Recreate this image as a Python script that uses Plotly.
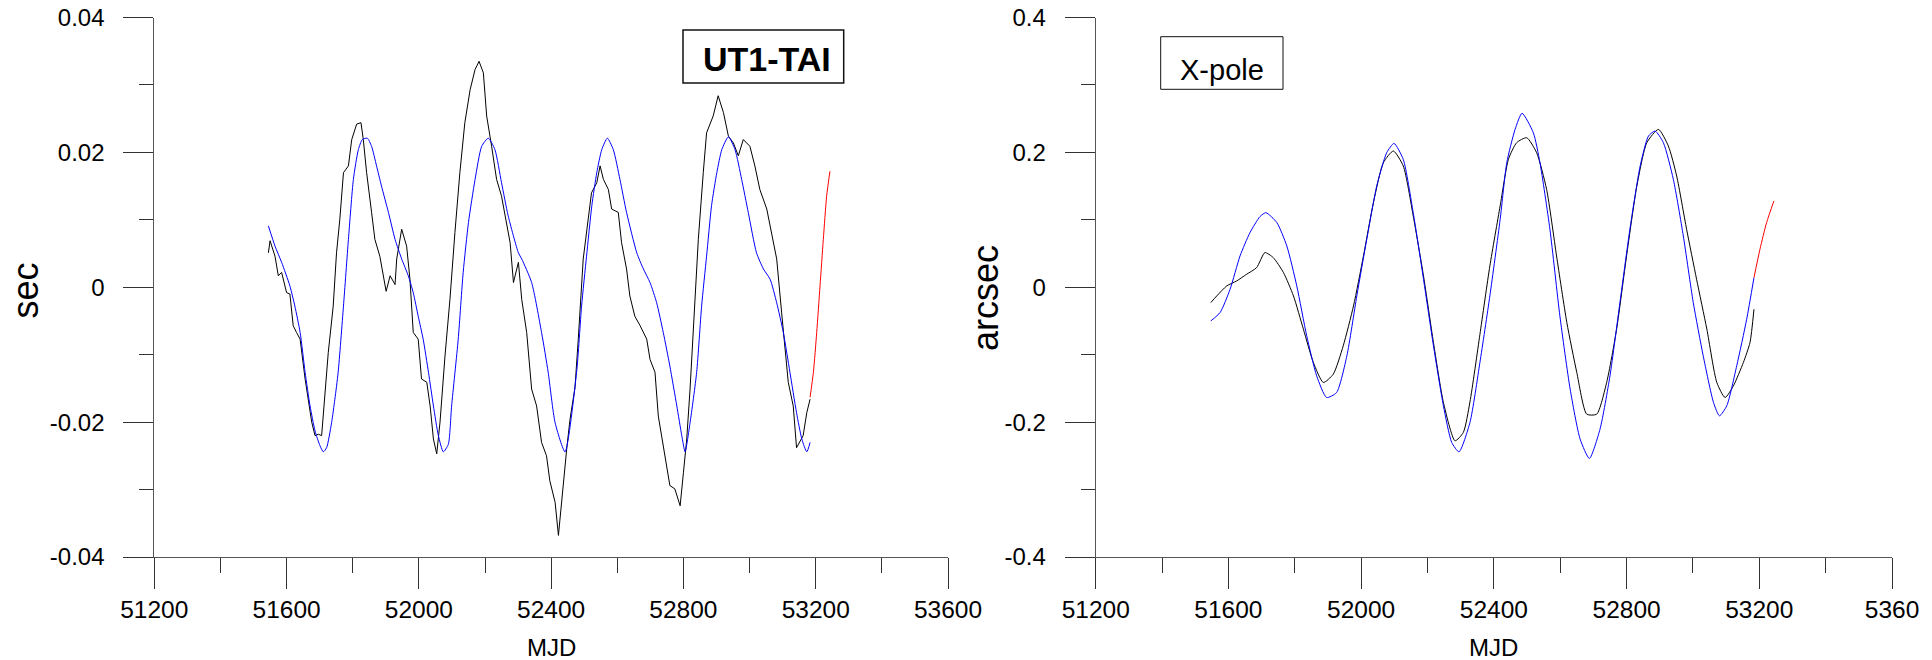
import plotly.graph_objects as go

# ---------------- data ----------------
# UT1-TAI panel (seconds)
ut_obs_mjd = [51545, 51550, 51565, 51575, 51585, 51600, 51610, 51620, 51630, 51641, 51656, 51666, 51676, 51686,
              51696, 51706, 51716, 51726, 51741, 51751, 51761, 51772, 51787, 51797, 51812, 51825, 51832, 51842,
              51857, 51867, 51882, 51893, 51901, 51913, 51928, 51933, 51948, 51963, 51973, 51983, 51998, 52008,
              52024, 52034, 52044, 52054, 52064, 52079, 52094, 52109, 52124, 52139, 52155, 52170, 52182, 52195,
              52205, 52220, 52235, 52250, 52260, 52276, 52286, 52301, 52311, 52326, 52341, 52356, 52371, 52386,
              52396, 52412, 52422, 52437, 52447, 52457, 52472, 52482, 52497, 52512, 52522, 52538, 52548, 52558,
              52573, 52583, 52603, 52613, 52628, 52638, 52653, 52669, 52689, 52699, 52714, 52724, 52744, 52759,
              52774, 52790, 52800, 52810, 52820, 52835, 52845, 52860, 52870, 52890, 52905, 52921, 52936, 52951,
              52966, 52981, 53001, 53016, 53031, 53052, 53067, 53082, 53097, 53107, 53117, 53132, 53142, 53162,
              53173, 53183]
ut_obs = [0.0051, 0.0069, 0.0046, 0.0017, 0.0022, -0.0008, -0.0010, -0.0057, -0.0067, -0.0077, -0.0136, -0.0166,
          -0.0200, -0.0220, -0.0218, -0.0220, -0.0156, -0.0097, -0.0028, 0.0051, 0.0101, 0.0170, 0.0180, 0.0219,
          0.0242, 0.0244, 0.0219, 0.0170, 0.0111, 0.0071, 0.0046, 0.0017, -0.0006, 0.0017, 0.0004, 0.0042,
          0.0086, 0.0061, 0.0012, -0.0067, -0.0077, -0.0136, -0.0141, -0.0176, -0.0225, -0.0247, -0.0200,
          -0.0102, -0.0018, 0.0081, 0.0170, 0.0244, 0.0293, 0.0323, 0.0335, 0.0318, 0.0254, 0.0209, 0.0160,
          0.0135, 0.0106, 0.0066, 0.0007, 0.0037, -0.0018, -0.0067, -0.0151, -0.0176, -0.0230, -0.0250,
          -0.0287, -0.0319, -0.0368, -0.0289, -0.0240, -0.0196, -0.0149, -0.0077, 0.0042, 0.0101, 0.0140,
          0.0155, 0.0180, 0.0160, 0.0145, 0.0116, 0.0111, 0.0066, 0.0027, -0.0013, -0.0043, -0.0057, -0.0077,
          -0.0107, -0.0126, -0.0191, -0.0250, -0.0294, -0.0299, -0.0324, -0.0275, -0.0225, -0.0151, -0.0028,
          0.0071, 0.0170, 0.0229, 0.0254, 0.0284, 0.0259, 0.0224, 0.0214, 0.0195, 0.0219, 0.0209, 0.0180,
          0.0145, 0.0116, 0.0081, 0.0042, -0.0038, -0.0092, -0.0141, -0.0176, -0.0238, -0.0220, -0.0186,
          -0.0166]

ut_model_mjd = [51545, 51565, 51585, 51610, 51625, 51641, 51656, 51671, 51686, 51701, 51711, 51721, 51736, 51746,
                51756, 51772, 51787, 51802, 51817, 51829, 51844, 51857, 51872, 51887, 51908, 51928, 51948, 51968,
                51983, 51998, 52013, 52029, 52044, 52059, 52074, 52089, 52099, 52119, 52134, 52150, 52170, 52190,
                52210, 52230, 52250, 52270, 52301, 52311, 52341, 52371, 52391, 52412, 52442, 52477, 52492, 52507,
                52523, 52538, 52553, 52570, 52588, 52608, 52628, 52659, 52679, 52699, 52719, 52739, 52759, 52780,
                52795, 52805, 52820, 52840, 52855, 52870, 52885, 52901, 52916, 52936, 52956, 52976, 52996, 53021,
                53042, 53062, 53082, 53102, 53122, 53142, 53158, 53173, 53183]
ut_model = [0.0091, 0.0061, 0.0037, 0.0002, -0.0028, -0.0067, -0.0126, -0.0176, -0.0213, -0.0235, -0.0244,
            -0.0238, -0.0201, -0.0166, -0.0126, -0.0028, 0.0071, 0.0160, 0.0204, 0.0219, 0.0221, 0.0209, 0.0180,
            0.0150, 0.0111, 0.0071, 0.0042, 0.0017, -0.0008, -0.0043, -0.0077, -0.0126, -0.0176, -0.0220,
            -0.0244, -0.0233, -0.0176, -0.0077, 0.0022, 0.0096, 0.0160, 0.0209, 0.0221, 0.0204, 0.0155, 0.0106,
            0.0051, 0.0042, 0.0007, -0.0067, -0.0126, -0.0201, -0.0244, -0.0126, -0.0028, 0.0046, 0.0121,
            0.0170, 0.0204, 0.0221, 0.0204, 0.0160, 0.0111, 0.0051, 0.0027, 0.0007, -0.0023, -0.0067, -0.0117,
            -0.0176, -0.0220, -0.0244, -0.0201, -0.0126, -0.0028, 0.0046, 0.0121, 0.0170, 0.0204, 0.0223,
            0.0204, 0.0160, 0.0111, 0.0051, 0.0027, 0.0012, -0.0023, -0.0067, -0.0126, -0.0186, -0.0225,
            -0.0244, -0.0230]

ut_pred_mjd = [53183, 53193, 53203, 53213, 53223, 53233, 53243]
ut_pred = [-0.0163, -0.0126, -0.0067, 0.0002, 0.0071, 0.0135, 0.0172]

# X-pole panel (arcsec)
xp_obs_mjd = [51547, 51565, 51595, 51625, 51655, 51685, 51710, 51735, 51766, 51796, 51826, 51856, 51886, 51916,
              51946, 51977, 52007, 52037, 52067, 52097, 52127, 52157, 52188, 52218, 52248, 52283, 52308, 52328,
              52358, 52388, 52419, 52444, 52469, 52499, 52529, 52559, 52589, 52620, 52650, 52680, 52710, 52740,
              52770, 52800, 52831, 52861, 52896, 52926, 52951, 52981, 53011, 53042, 53072, 53097, 53122, 53152,
              53172, 53184]
xp_obs = [-0.0227, -0.0128, 0.0020, 0.0094, 0.0193, 0.0291, 0.0514, 0.0440, 0.0217, -0.0128, -0.0622, -0.1116,
          -0.1412, -0.1289, -0.0869, -0.0277, 0.0464, 0.1254, 0.1847, 0.2020, 0.1798, 0.1057, 0.0168, -0.0820,
          -0.1709, -0.2277, -0.2153, -0.1700, -0.0700, 0.0317, 0.1206, 0.1898, 0.2145, 0.2217, 0.1995, 0.1452,
          0.0464, -0.0524, -0.1264, -0.1882, -0.1882, -0.1412, -0.0622, 0.0464, 0.1501, 0.2143, 0.2341,
          0.2094, 0.1650, 0.0859, 0.0119, -0.0622, -0.1412, -0.1635, -0.1462, -0.1116, -0.0820, -0.0326]

xp_model_mjd = [51547, 51575, 51605, 51635, 51665, 51695, 51713, 51746, 51776, 51806, 51836, 51866, 51896, 51926,
                51957, 51987, 52017, 52047, 52077, 52099, 52127, 52157, 52188, 52218, 52248, 52273, 52295, 52328,
                52358, 52388, 52419, 52439, 52464, 52485, 52519, 52539, 52569, 52599, 52630, 52660, 52688, 52720,
                52750, 52780, 52810, 52841, 52866, 52886, 52911, 52941, 52971, 53001, 53031, 53062, 53080, 53102,
                53132, 53162, 53184]
xp_model = [-0.0499, -0.0375, -0.0030, 0.0464, 0.0810, 0.1047, 0.1106, 0.0958, 0.0612, 0.0020, -0.0721, -0.1314,
            -0.1635, -0.1561, -0.1017, -0.0128, 0.0711, 0.1501, 0.1995, 0.2133, 0.1896, 0.1106, 0.0119, -0.0869,
            -0.1758, -0.2301, -0.2440, -0.2005, -0.1116, -0.0128, 0.1005, 0.1847, 0.2341, 0.2580, 0.2291,
            0.1847, 0.0859, -0.0425, -0.1511, -0.2252, -0.2538, -0.2104, -0.1314, -0.0227, 0.0859, 0.1798,
            0.2242, 0.2316, 0.2143, 0.1600, 0.0761, -0.0227, -0.1017, -0.1709, -0.1906, -0.1758, -0.1165,
            -0.0474, 0.0143]

xp_pred_mjd = [53184, 53202, 53222, 53244]
xp_pred = [0.0143, 0.0563, 0.0958, 0.1279]

# tick values / labels
x_major = [51200, 51600, 52000, 52400, 52800, 53200, 53600]
x_minor = [51400, 51800, 52200, 52600, 53000, 53400]
x_labels_left = ["51200", "51600", "52000", "52400", "52800", "53200", "53600"]
x_labels_right = ["51200", "51600", "52000", "52400", "52800", "53200", "5360"]
y1_major = [-0.04, -0.02, 0, 0.02, 0.04]
y1_minor = [-0.03, -0.01, 0.01, 0.03]
y1_labels = ["-0.04", "-0.02", "0", "0.02", "0.04"]
y2_major = [-0.4, -0.2, 0, 0.2, 0.4]
y2_minor = [-0.3, -0.1, 0.1, 0.3]
y2_labels = ["-0.4", "-0.2", "0", "0.2", "0.4"]

# ---------------- figure ----------------
W, H = 1932, 660
FONT = "Liberation Sans, Arial, sans-serif"
SMOOTH = dict(shape="spline", smoothing=0.6)

fig = go.Figure()
fig.add_trace(go.Scatter(x=ut_obs_mjd, y=ut_obs, mode="lines", line=dict(color="#000000", width=1),
                         xaxis="x", yaxis="y", hoverinfo="skip"))
fig.add_trace(go.Scatter(x=ut_model_mjd, y=ut_model, mode="lines", line=dict(color="#0000ff", width=1, **SMOOTH),
                         xaxis="x", yaxis="y", hoverinfo="skip"))
fig.add_trace(go.Scatter(x=ut_pred_mjd, y=ut_pred, mode="lines", line=dict(color="#ff0000", width=1, **SMOOTH),
                         xaxis="x", yaxis="y", hoverinfo="skip"))
fig.add_trace(go.Scatter(x=xp_obs_mjd, y=xp_obs, mode="lines", line=dict(color="#000000", width=1, **SMOOTH),
                         xaxis="x2", yaxis="y2", hoverinfo="skip"))
fig.add_trace(go.Scatter(x=xp_model_mjd, y=xp_model, mode="lines", line=dict(color="#0000ff", width=1, **SMOOTH),
                         xaxis="x2", yaxis="y2", hoverinfo="skip"))
fig.add_trace(go.Scatter(x=xp_pred_mjd, y=xp_pred, mode="lines", line=dict(color="#ff0000", width=1, **SMOOTH),
                         xaxis="x2", yaxis="y2", hoverinfo="skip"))


def xaxis(domain, anchor, labels):
    return dict(domain=domain, anchor=anchor, range=[51200, 53600], tickmode="array", automargin=False,
                tickvals=x_major, ticktext=labels, ticks="outside", ticklen=31, tickwidth=1,
                tickcolor="#333333", showline=True, linecolor="#555555", linewidth=1,
                showgrid=False, zeroline=False,
                minor=dict(tickvals=x_minor, ticks="outside", ticklen=15, tickwidth=1,
                           tickcolor="#333333", showgrid=False),
                tickfont=dict(family=FONT, size=24.5, color="#000000"))


def yaxis(domain, anchor, rng, major, minor, labels):
    return dict(domain=domain, anchor=anchor, range=rng, tickmode="array", automargin=False,
                tickvals=major, ticktext=labels, ticks="outside", ticklen=30, tickwidth=1,
                tickcolor="#333333", showline=True, linecolor="#555555", linewidth=1,
                showgrid=False, zeroline=False,
                minor=dict(tickvals=minor, ticks="outside", ticklen=14, tickwidth=1,
                           tickcolor="#333333", showgrid=False),
                tickfont=dict(family=FONT, size=24, color="#000000"), ticklabelstandoff=14)


ydom = [1 - 557 / H, 1 - 17.5 / H]
fig.update_layout(
    width=W, height=H, margin=dict(l=0, r=0, t=0, b=0, autoexpand=False),
    paper_bgcolor="white", plot_bgcolor="white", showlegend=False,
    font=dict(family=FONT, color="#000000"),
    xaxis=xaxis([154.3 / W, 948 / W], "y", x_labels_left),
    yaxis=yaxis(ydom, "x", [-0.04, 0.04], y1_major, y1_minor, y1_labels),
    xaxis2=xaxis([1095.7 / W, 1892 / W], "y2", x_labels_right),
    yaxis2=yaxis(ydom, "x2", [-0.4, 0.4], y2_major, y2_minor, y2_labels),
)

# axis titles
fig.add_annotation(text="sec", x=24.5 / W, y=1 - 291 / H, xref="paper", yref="paper", textangle=-90,
                   showarrow=False, xanchor="center", yanchor="middle", font=dict(family=FONT, size=36))
fig.add_annotation(text="arcsec", x=985.5 / W, y=1 - 297.5 / H, xref="paper", yref="paper", textangle=-90,
                   showarrow=False, xanchor="center", yanchor="middle", font=dict(family=FONT, size=36))
fig.add_annotation(text="MJD", x=(154.3 + 948) / 2 / W, y=1 - 647 / H, xref="paper", yref="paper",
                   showarrow=False, xanchor="center", yanchor="middle", font=dict(family=FONT, size=24))
fig.add_annotation(text="MJD", x=(1095.7 + 1892) / 2 / W, y=1 - 647 / H, xref="paper", yref="paper",
                   showarrow=False, xanchor="center", yanchor="middle", font=dict(family=FONT, size=24))

# label boxes
fig.add_shape(type="rect", xref="paper", yref="paper", x0=683 / W, x1=843.7 / W, y0=1 - 83 / H, y1=1 - 30 / H,
              line=dict(color="#111111", width=1.5), fillcolor="white", layer="above")
fig.add_annotation(text="<b>UT1-TAI</b>", x=766.5 / W, y=1 - 59 / H, xref="paper", yref="paper",
                   showarrow=False, xanchor="center", yanchor="middle", font=dict(family=FONT, size=34))
fig.add_shape(type="rect", xref="paper", yref="paper", x0=1160.7 / W, x1=1283 / W, y0=1 - 89.3 / H,
              y1=1 - 36.7 / H, line=dict(color="#111111", width=1), fillcolor="white", layer="above")
fig.add_annotation(text="X-pole", x=1221.5 / W, y=1 - 70 / H, xref="paper", yref="paper",
                   showarrow=False, xanchor="center", yanchor="middle", font=dict(family=FONT, size=29))

fig.write_html("out.html")
